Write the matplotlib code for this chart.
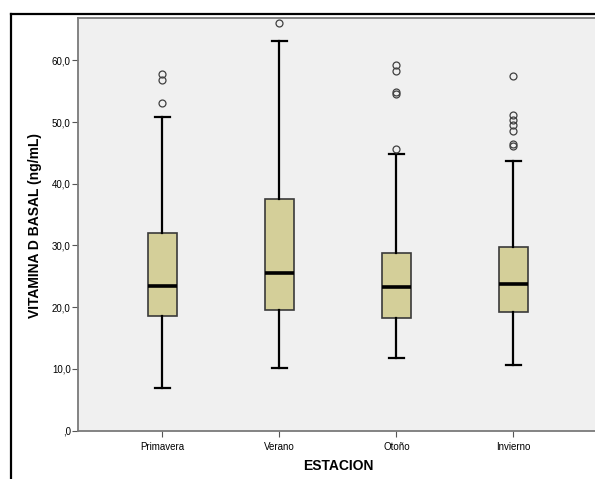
import numpy as np
import matplotlib
matplotlib.use("Agg")
import matplotlib.pyplot as plt
from matplotlib.lines import Line2D

plt.rcParams['font.family'] = ['Liberation Sans', 'DejaVu Sans']

seasons = ['Primavera', 'Verano', 'Otoño', 'Invierno']
whislo = [6.9, 10.2, 11.8, 10.6]
q1 = [18.6, 19.6, 18.2, 19.3]
med = [23.4, 25.6, 23.2, 23.7]
q3 = [32.0, 37.5, 28.8, 29.8]
whishi = [50.8, 63.2, 44.8, 43.7]
outliers = [
    [53.1, 56.8, 57.8],
    [66.0],
    [45.7, 54.5, 54.8, 58.2, 59.2],
    [46.1, 46.5, 48.5, 49.5, 50.3, 51.1, 57.4],
]
yticks = [0, 10, 20, 30, 40, 50, 60]
ytick_labels = [',0', '10,0', '20,0', '30,0', '40,0', '50,0', '60,0']

W, H = 595, 479
fig = plt.figure(figsize=(W / 100, H / 100), dpi=100)
ax = fig.add_axes([77.7 / W, (H - 430.7) / H, (598 - 77.7) / W, (430.7 - 18.3) / H])
ax.set_facecolor('#f0f0f0')

stats = []
for i, name in enumerate(seasons):
    stats.append({'label': name, 'whislo': whislo[i], 'q1': q1[i], 'med': med[i],
                  'q3': q3[i], 'whishi': whishi[i], 'fliers': outliers[i]})

ax.bxp(stats, positions=[1, 2, 3, 4], widths=0.25, patch_artist=True,
       boxprops=dict(facecolor='#d4cf99', edgecolor='#3a3a3a', linewidth=1.2),
       medianprops=dict(color='black', linewidth=2.6),
       whiskerprops=dict(color='black', linewidth=1.6),
       capprops=dict(color='black', linewidth=1.6),
       capwidths=0.13,
       flierprops=dict(marker='o', markersize=5, markerfacecolor='none',
                       markeredgecolor='#404040', markeredgewidth=0.9))

ax.set_xlim(0.277, 4.723)
ax.set_ylim(0, 66.8)
ax.set_yticks(yticks)
ax.set_yticklabels(ytick_labels)
ax.tick_params(axis='both', labelsize=7, length=4, color='#555555', direction='out')
ax.tick_params(axis='x', pad=4)
ax.tick_params(axis='y', pad=1)
for s in ax.spines.values():
    s.set_color('#7a7a7a')
    s.set_linewidth(1.3)

fig.text(35 / W, 1 - 225 / H, 'VITAMINA D BASAL (ng/mL)', fontsize=10, fontweight='bold',
         rotation=90, ha='center', va='center')
fig.text(338 / W, 1 - 466 / H, 'ESTACION', fontsize=10, fontweight='bold',
         ha='center', va='center')

# outer frame lines
fig.add_artist(Line2D([11 / W, 11 / W], [0, 1 - 13.5 / H], color='black', linewidth=1.6))
fig.add_artist(Line2D([11 / W, 1], [1 - 13.5 / H, 1 - 13.5 / H], color='black', linewidth=1.6))

fig.savefig('out.png', dpi=100)
